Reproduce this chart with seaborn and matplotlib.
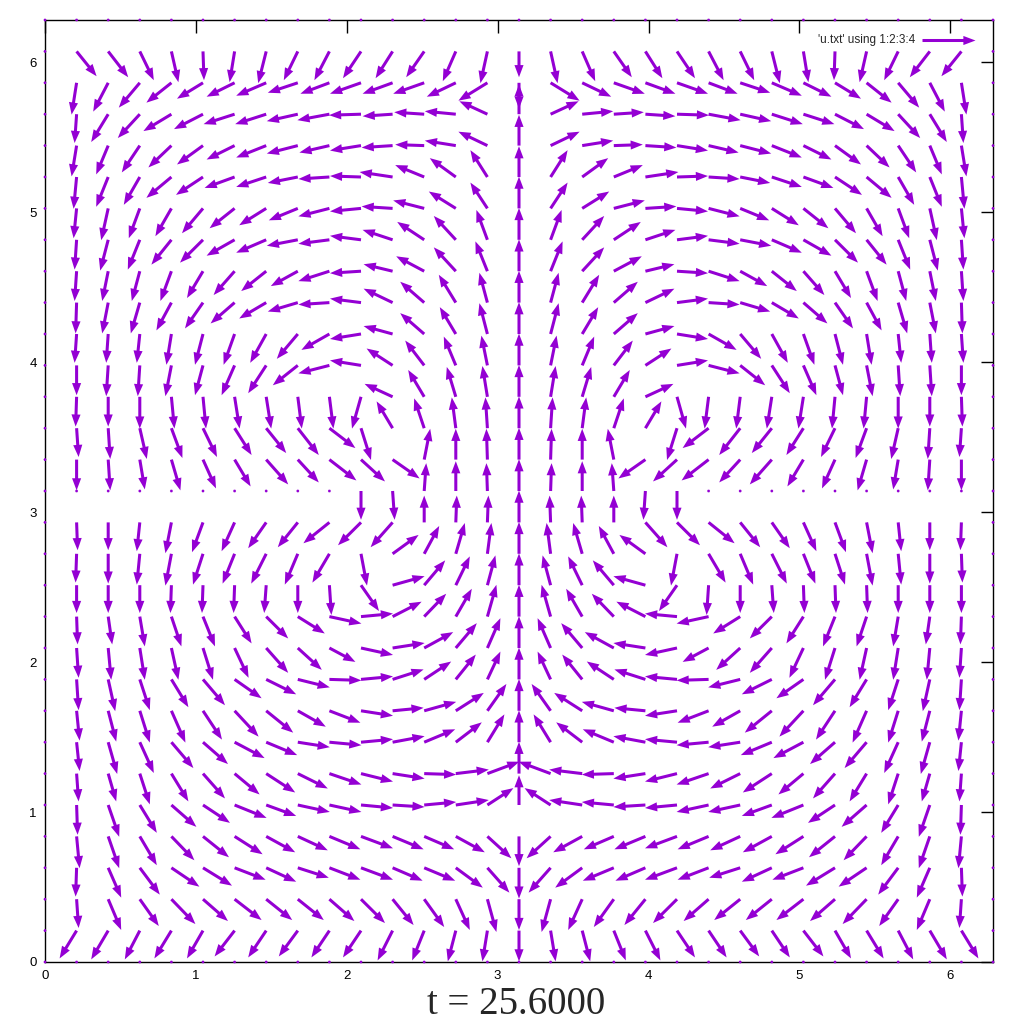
import numpy as np
import matplotlib
matplotlib.use("Agg")
import matplotlib.pyplot as plt
import seaborn as sns

# velocity field, left half (i = 1..15), rows from top (j = 29) to bottom (j = 1)
# units: arrow length in screen pixels (1 unit = 2*pi/948)
DX = [
    [20, 20, 14, 7, 1, -5, -8, -14, -15, -18, -17, -18, -13, -7, 0],
    [-5, -15, -21, -25, -26, -28, -30, -30, -29, -31, -30, -31, -29, -29, 0],
    [-2, -17, -22, -28, -29, -31, -31, -31, -32, -32, -30, -30, -31, -28, 0],
    [-5, -12, -18, -23, -26, -28, -30, -31, -30, -31, -31, -29, -31, -29, 0],
    [-3, -12, -16, -25, -27, -30, -30, -30, -31, -31, -33, -29, -26, -17, 0],
    [-3, -7, -11, -16, -21, -25, -27, -29, -31, -31, -31, -31, -27, -17, 0],
    [-2, -8, -12, -20, -23, -28, -30, -31, -31, -31, -30, -27, -22, -11, 0],
    [-2, -6, -8, -11, -16, -21, -25, -27, -31, -31, -29, -28, -22, -12, 0],
    [-1, -6, -9, -15, -18, -24, -27, -30, -31, -31, -29, -24, -17, -8, 0],
    [-2, -2, -3, -5, -8, -11, -16, -21, -28, -31, -29, -24, -16, -8, 0],
    [0, -2, -2, -6, -8, -13, -18, -25, -31, -31, -26, -19, -12, -6, 0],
    [-1, 0, 0, 3, 3, 5, 5, 4, 4, -9, -28, -16, -9, -5, 0],
    [2, 2, 7, 11, 14, 17, 20, 21, 26, 10, -16, -10, -4, -2, 0],
    [0, 2, 5, 9, 13, 16, 22, 21, 27, 24, 27, 6, 0, -1, 0],
    [0, 0, 0, 0, 0, 0, 0, 0, 0, 0, 2, 2, 0, -1, 0],
    [1, 0, -3, -6, -11, -13, -18, -20, -26, -23, -22, 0, 1, 1, 0],
    [-1, 0, -3, -6, -10, -12, -15, -13, -17, 6, 26, 15, 9, 4, 0],
    [0, 0, 0, -1, -1, -1, -2, 0, 2, 18, 32, 21, 14, 8, 0],
    [1, 4, 5, 10, 12, 17, 22, 27, 32, 32, 29, 22, 16, 9, 0],
    [2, 3, 5, 7, 10, 14, 22, 24, 26, 32, 32, 29, 21, 13, 0],
    [2, 7, 10, 17, 22, 27, 30, 32, 32, 32, 31, 27, 20, 13, 0],
    [3, 8, 10, 14, 19, 24, 27, 28, 31, 32, 31, 32, 28, 19, 0],
    [3, 9, 14, 22, 25, 30, 31, 32, 32, 32, 32, 31, 26, 17, 0],
    [2, 8, 10, 17, 22, 25, 29, 30, 32, 32, 32, 32, 33, 32, 0],
    [1, 11, 17, 25, 27, 32, 30, 32, 32, 32, 32, 32, 33, 26, 0],
    [3, 11, 17, 23, 26, 28, 29, 30, 31, 32, 31, 30, 29, 24, 0],
    [-1, 13, 20, 28, 29, 31, 30, 31, 31, 32, 30, 31, 27, 22, 0],
    [2, 13, 19, 24, 25, 27, 26, 26, 25, 24, 21, 20, 14, 9, 0],
    [-17, -17, -15, -17, -16, -20, -18, -19, -18, -18, -15, -12, -8, -5, 0],
]
DY = [
    [-25, -26, -29, -31, -29, -31, -32, -29, -29, -27, -27, -26, -30, -32, -26],
    [-32, -29, -25, -20, -16, -14, -13, -10, -11, -11, -11, -11, -14, -18, -26],
    [-29, -28, -24, -17, -15, -10, -10, -7, -6, -1, -2, 2, 3, 13, 30],
    [-31, -29, -27, -22, -19, -14, -12, -8, -7, -5, -2, 1, 5, 14, 31],
    [-32, -30, -28, -21, -18, -11, -10, -6, -2, 1, 5, 12, 19, 27, 31],
    [-30, -32, -30, -28, -25, -20, -17, -12, -8, -3, 2, 8, 17, 26, 32],
    [-30, -31, -30, -25, -23, -16, -13, -6, -4, 4, 10, 18, 24, 30, 32],
    [-30, -30, -30, -30, -27, -24, -20, -15, -10, -2, 7, 15, 24, 30, 32],
    [-31, -31, -31, -28, -26, -21, -16, -9, -2, 4, 14, 21, 28, 30, 32],
    [-29, -29, -29, -31, -31, -31, -29, -25, -16, -5, 8, 21, 27, 31, 32],
    [-30, -31, -31, -31, -30, -30, -28, -20, -8, 5, 17, 25, 29, 30, 32],
    [-30, -30, -32, -32, -32, -32, -32, -32, -32, -32, 13, 27, 30, 31, 32],
    [-29, -31, -31, -30, -29, -27, -25, -27, -20, -32, 27, 30, 31, 31, 32],
    [-31, -31, -30, -31, -29, -27, -25, -23, -21, -22, -19, 31, 31, 31, 32],
    [0, 0, 0, 0, 0, 0, 0, 0, 0, -29, -29, 28, 30, 28, 32],
    [-28, -28, -29, -31, -30, -29, -26, -25, -21, -23, -25, 27, 27, 27, 32],
    [-29, -30, -31, -32, -31, -30, -30, -31, -29, -32, 19, 28, 31, 31, 32],
    [-28, -28, -28, -28, -28, -28, -28, -28, -30, -26, 9, 25, 29, 30, 32],
    [-28, -28, -30, -30, -30, -27, -22, -17, -7, 3, 15, 23, 28, 32, 32],
    [-30, -32, -32, -32, -32, -30, -25, -22, -14, -7, 5, 16, 25, 30, 32],
    [-31, -32, -31, -28, -26, -19, -15, -8, -1, 3, 10, 18, 25, 28, 32],
    [-30, -31, -32, -32, -29, -26, -22, -16, -12, -5, 3, 9, 18, 27, 32],
    [-29, -32, -31, -26, -22, -16, -13, -5, -3, 3, 6, 13, 20, 28, 32],
    [-28, -28, -31, -28, -25, -21, -19, -15, -11, -8, -5, -1, 4, 12, 32],
    [-30, -32, -28, -22, -18, -13, -11, -7, -7, -3, -2, 3, 5, 17, 30],
    [-32, -32, -29, -24, -21, -18, -16, -14, -13, -12, -13, -13, -16, -22, -30],
    [-29, -30, -27, -19, -18, -12, -14, -10, -12, -12, -13, -13, -20, -25, -31],
    [-29, -31, -27, -25, -22, -21, -21, -21, -22, -24, -26, -28, -31, -33, -31],
    [-28, -29, -29, -28, -28, -26, -27, -26, -27, -27, -30, -30, -31, -31, -31],
]

N = 30
TIME_LABEL = "t = 25.6000"
LEGEND_LABEL = "'u.txt' using 1:2:3:4"
COLOR = "#9400D3"
UNIT = 2 * np.pi / 948

# build the full grid, right half mirrors the left half
U = np.zeros((N + 1, N + 1))
V = np.zeros((N + 1, N + 1))
for r in range(len(DX)):
    j = N - 1 - r
    for c in range(15):
        i = c + 1
        U[j, i] = DX[r][c]
        V[j, i] = DY[r][c]
        U[j, N - i] = -DX[r][c]
        V[j, N - i] = DY[r][c]
U *= UNIT
V *= UNIT

grid = np.linspace(0, 2 * np.pi, N + 1)
X, Y = np.meshgrid(grid, grid)

sns.set_style("white")
plt.rcParams["font.family"] = ["Liberation Sans", "DejaVu Sans"]

fig = plt.figure(figsize=(10.24, 10.24), dpi=100)
ax = fig.add_axes([45 / 1024, 62 / 1024, 948 / 1024, 942 / 1024])

q = ax.quiver(X, Y, U, V, angles="xy", scale_units="xy", scale=1,
              color=COLOR, width=0.0032, headwidth=3.0, headlength=4.0,
              headaxislength=4.0, clip_on=False, zorder=3)

ax.quiverkey(q, 922 / 1024, 1 - 40 / 1024, 53 * UNIT, LEGEND_LABEL,
             labelpos="W", coordinates="figure", labelsep=0.07,
             fontproperties={"size": 8.5})

ax.set_xlim(0, 2 * np.pi)
ax.set_ylim(0, 2 * np.pi)
ax.set_xticks(range(7))
ax.set_yticks(range(7))
ax.tick_params(direction="in", length=9, width=1, top=True, right=True,
               labelsize=9.5, pad=6, colors="black")
for s in ax.spines.values():
    s.set_color("black")
    s.set_linewidth(1)

fig.text(516 / 1024, 1 - 1014 / 1024, TIME_LABEL, ha="center", va="baseline",
         fontsize=28, family=["Liberation Serif", "DejaVu Serif"])

fig.savefig("out.png", dpi=100)
plt.close(fig)
